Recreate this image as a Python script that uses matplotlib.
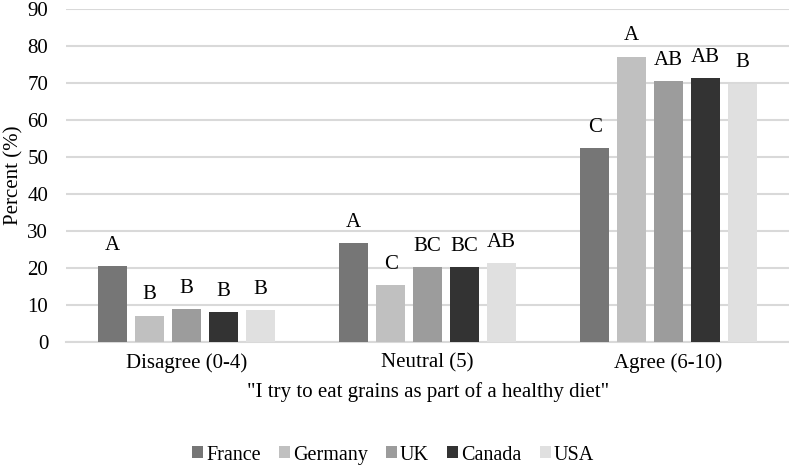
import numpy as np
import matplotlib.pyplot as plt

plt.rcParams['font.family'] = ['Liberation Serif', 'DejaVu Serif']

categories = ['Disagree (0-4)', 'Neutral (5)', 'Agree (6-10)']
countries = ['France', 'Germany', 'UK', 'Canada', 'USA']
values = {
    'France': [20.6, 26.6, 52.3],
    'Germany': [7.1, 15.3, 77.1],
    'UK': [8.9, 20.1, 70.6],
    'Canada': [8.1, 20.1, 71.4],
    'USA': [8.7, 21.4, 69.8],
}
letters = {
    'France': ['A', 'A', 'C'],
    'Germany': ['B', 'C', 'A'],
    'UK': ['B', 'BC', 'AB'],
    'Canada': ['B', 'BC', 'AB'],
    'USA': ['B', 'AB', 'B'],
}
colors = ['#767676', '#c0c0c0', '#9c9c9c', '#333333', '#e0e0e0']

fig = plt.figure(figsize=(7.89, 4.67), dpi=100)
ax = fig.add_axes([0.084, 0.268, 0.916, 0.713])

x = np.arange(len(categories))
pitch = 0.1535
width = 0.12
for i, name in enumerate(countries):
    pos = x + (i - 2) * pitch
    ax.bar(pos, values[name], width, color=colors[i], label=name, zorder=3)
    for px, v, lab in zip(pos, values[name], letters[name]):
        ax.annotate(lab, (px, v), xytext=(0, 8), textcoords='offset points',
                    ha='center', va='bottom', fontsize=15)

ax.set_xlim(-0.5, 2.5)
ax.set_ylim(0, 90)
ax.set_yticks(range(0, 91, 10))
ax.set_xticks(x)
ax.set_xticklabels(categories, fontsize=15)
ax.tick_params(axis='y', labelsize=15, length=0, pad=13)
ax.tick_params(axis='x', length=0, pad=8)
ax.grid(axis='y', color='#d9d9d9', linewidth=1.5, zorder=0)
for s in ['top', 'right', 'left']:
    ax.spines[s].set_visible(False)
ax.spines['bottom'].set_color('#d9d9d9')
ax.spines['bottom'].set_linewidth(1.5)

ax.set_ylabel('Percent (%)', fontsize=15, labelpad=3)
ax.set_xlabel('"I try to eat grains as part of a healthy diet"', fontsize=15, labelpad=7)

ax.legend(loc='center', bbox_to_anchor=(0.452, -0.34), ncol=5, frameon=False,
          fontsize=14.5, handlelength=0.55, handleheight=0.55, handletextpad=0.15,
          columnspacing=0.9)

fig.savefig('out.png', dpi=100)
